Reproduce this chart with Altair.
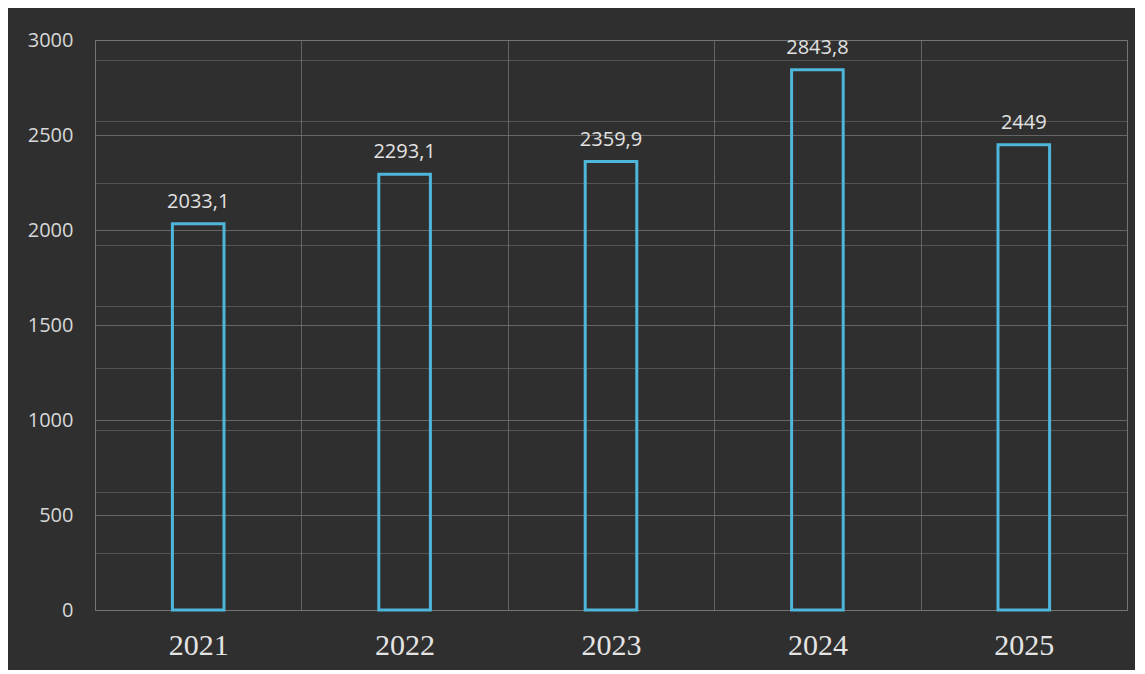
import altair as alt
import pandas as pd

years = ["2021", "2022", "2023", "2024", "2025"]
values = [2033.1, 2293.1, 2359.9, 2843.8, 2449]
labels = [f"{v:g}".replace(".", ",") for v in values]
y_ticks = [0, 500, 1000, 1500, 2000, 2500, 3000]
aux_grid = [1, 2, 3, 4, 5, 6, 7, 8, 9]

df = pd.DataFrame({"year": years, "value": values, "label": labels})

W, H = 1032, 570
BG = "#2f2f2f"
GRID = "#7a7a7a"

x_scale = alt.Scale(paddingInner=0, paddingOuter=0)

x_enc = alt.X(
    "year:N",
    sort=years,
    scale=x_scale,
    axis=alt.Axis(
        title=None,
        labelAngle=0,
        tickBand="extent",
        labelFont="Liberation Serif",
        labelFontSize=30,
        labelColor="#e4e4e4",
        labelPadding=20,
        ticks=False,
        domain=False,
        grid=True,
        gridColor=GRID,
        gridOpacity=0.7,
    ),
)

y_scale = alt.Scale(domain=[0, 3000], nice=False)

bars = alt.Chart(df).mark_bar(
    fillOpacity=0, stroke="#4fb6db", strokeWidth=3, width=alt.RelativeBandSize(0.25)
).encode(
    x=x_enc,
    y=alt.Y(
        "value:Q",
        scale=y_scale,
        axis=alt.Axis(
            title=None,
            values=y_ticks,
            format="d",
            labelFont="Open Sans",
            labelFontSize=20,
            labelColor="#d8d8d8",
            labelPadding=22,
            ticks=False,
            domain=False,
            grid=True,
            gridColor=GRID,
            gridOpacity=0.75,
        ),
    ),
)

text = alt.Chart(df).mark_text(
    baseline="bottom", dy=-12, font="Open Sans", fontSize=20, color="#e2e2e2"
).encode(
    x=alt.X("year:N", sort=years),
    y=alt.Y("value:Q", scale=y_scale),
    text="label:N",
)

aux = alt.Chart(df).mark_point(opacity=0).encode(
    x=alt.X("year:N", sort=years),
    y=alt.Y(
        datum=1,
        type="quantitative",
        scale=alt.Scale(domain=[0.08, 9.32], nice=False, zero=False),
        axis=alt.Axis(
            orient="right",
            title=None,
            values=aux_grid,
            labels=False,
            ticks=False,
            domain=False,
            grid=True,
            gridColor=GRID,
            gridOpacity=0.5,
            minExtent=0,
            maxExtent=0,
        ),
    ),
)

chart = (
    alt.layer(alt.layer(bars, text), aux)
    .resolve_scale(y="independent")
    .properties(
        width=W,
        height=H,
        background=BG,
        padding={"left": 19, "top": 22, "right": 8, "bottom": 10},
    )
    .configure_view(stroke=GRID, strokeOpacity=0.7)
)

chart.save("out.html", embed_options={"renderer": "svg", "actions": False})
